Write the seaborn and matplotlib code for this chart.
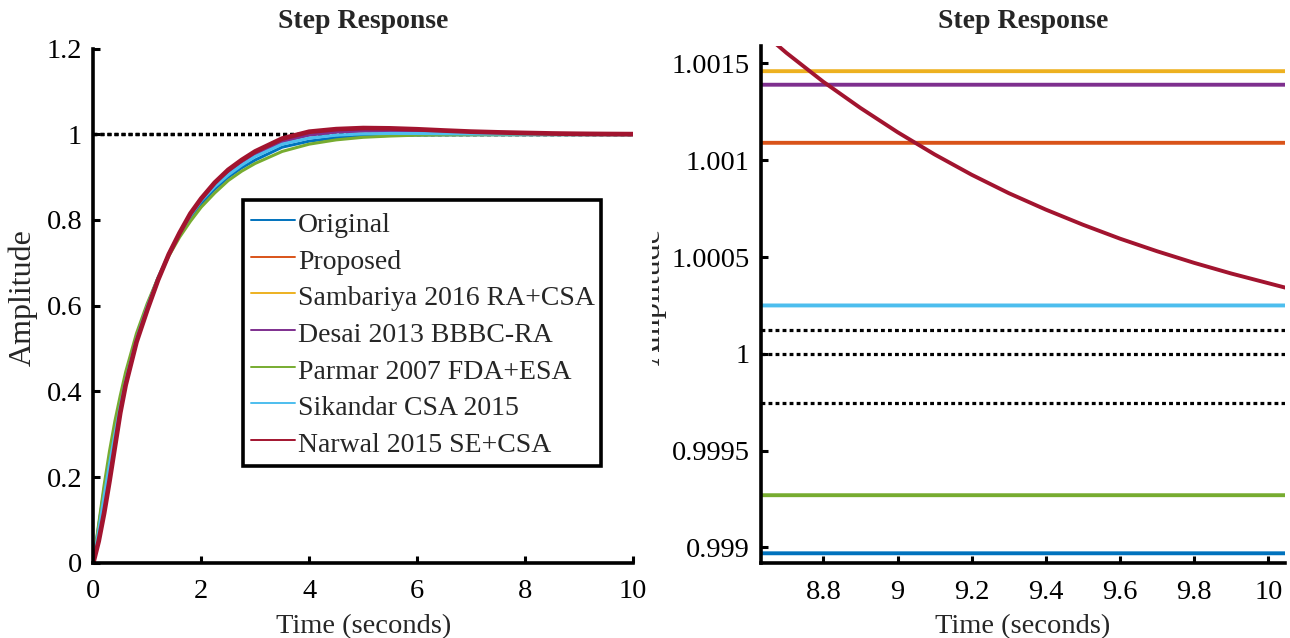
import pandas as pd
import matplotlib
matplotlib.use("Agg")
import matplotlib.pyplot as plt
from matplotlib.ticker import FormatStrFormatter
from matplotlib.transforms import Bbox, TransformedBbox
import seaborn as sns

# shared time grid (s)
time = [0, 0.1, 0.2, 0.3, 0.4, 0.5, 0.6, 0.8, 1.0, 1.2, 1.4, 1.6, 1.8, 2.0, 2.25, 2.5,
        2.75, 3.0, 3.5, 4.0, 4.5, 5.0, 5.5, 6.0, 6.5, 7.0, 7.5, 8.0, 8.5, 9.0, 9.5, 10.05]

original = [0, 0.085, 0.17, 0.245, 0.31, 0.37, 0.43, 0.525, 0.60, 0.665, 0.72, 0.765,
            0.805, 0.838, 0.872, 0.90, 0.922, 0.94, 0.97, 0.984, 0.992, 0.9955, 0.9975,
            0.9984, 0.9988, 0.9989, 0.99897, 0.99897, 0.99897, 0.99897, 0.99897, 0.99897]
proposed = [0, 0.052, 0.118, 0.193, 0.272, 0.35, 0.415, 0.515, 0.59, 0.659, 0.719, 0.769,
            0.813, 0.848, 0.884, 0.913, 0.936, 0.956, 0.984, 0.999, 1.006, 1.008, 1.0078,
            1.0065, 1.005, 1.0035, 1.0024, 1.0016, 1.00109, 1.00109, 1.00109, 1.00109]
sambariya = [0, 0.055, 0.122, 0.197, 0.275, 0.352, 0.417, 0.516, 0.592, 0.66, 0.72, 0.77,
             0.814, 0.849, 0.886, 0.915, 0.938, 0.957, 0.985, 1.0, 1.0068, 1.009, 1.0088,
             1.0075, 1.006, 1.0045, 1.0032, 1.0023, 1.00146, 1.00146, 1.00146, 1.00146]
desai = [0, 0.058, 0.126, 0.2, 0.278, 0.354, 0.418, 0.517, 0.593, 0.661, 0.72, 0.77,
         0.813, 0.847, 0.883, 0.912, 0.935, 0.954, 0.983, 0.998, 1.005, 1.0075, 1.0075,
         1.0065, 1.0052, 1.004, 1.003, 1.0021, 1.00139, 1.00139, 1.00139, 1.00139]
parmar = [0, 0.09, 0.18, 0.26, 0.33, 0.39, 0.445, 0.535, 0.605, 0.665, 0.716, 0.76,
          0.797, 0.83, 0.863, 0.892, 0.914, 0.932, 0.96, 0.977, 0.987, 0.993, 0.996,
          0.998, 0.9987, 0.999, 0.99915, 0.99925, 0.99927, 0.99927, 0.99927, 0.99927]
sikandar = [0, 0.075, 0.155, 0.23, 0.30, 0.365, 0.425, 0.522, 0.598, 0.664, 0.72, 0.768,
            0.81, 0.845, 0.878, 0.905, 0.928, 0.948, 0.977, 0.991, 0.998, 1.001, 1.002,
            1.0018, 1.0012, 1.0008, 1.0005, 1.0003, 1.00025, 1.00025, 1.00025, 1.00025]

# Narwal has its own, denser grid in the zoomed window
narwal_time = [0, 0.1, 0.2, 0.3, 0.4, 0.5, 0.6, 0.8, 1.0, 1.2, 1.4, 1.6, 1.8, 2.0, 2.25,
               2.5, 2.75, 3.0, 3.5, 4.0, 4.5, 5.0, 5.5, 6.0, 6.5, 7.0, 7.5, 8.0, 8.5,
               8.6, 8.7, 8.8, 8.9, 9.0, 9.1, 9.2, 9.3, 9.4, 9.5, 9.6, 9.7, 9.8, 9.9,
               10.0, 10.05]
narwal = [0, 0.05, 0.115, 0.19, 0.27, 0.35, 0.415, 0.515, 0.59, 0.66, 0.72, 0.77, 0.815,
          0.85, 0.887, 0.917, 0.94, 0.96, 0.99, 1.006, 1.012, 1.0145, 1.0138, 1.0117,
          1.0088, 1.0062, 1.0045, 1.0031, 1.00188,
          1.00172, 1.001555, 1.001405, 1.00127, 1.001145, 1.00103, 1.000925, 1.00083,
          1.000745, 1.000667, 1.000595, 1.00053, 1.00047, 1.000415, 1.000365, 1.00034]

# steady-state marker lines (dotted)
ss_levels = [1.000124, 1.0, 0.999747]

labels = ["Original", "Proposed", "Sambariya 2016 RA+CSA", "Desai 2013 BBBC-RA",
          "Parmar 2007 FDA+ESA", "Sikandar CSA 2015", "Narwal 2015 SE+CSA"]
colors = ["#0072BD", "#D95319", "#EDB120", "#7E2F8E", "#77AC30", "#4DBEEE", "#A2142F"]


def main():
    sns.set_style("ticks")
    plt.rcParams["font.family"] = ["Liberation Serif", "DejaVu Serif"]

    series = [(time, original), (time, proposed), (time, sambariya), (time, desai),
              (time, parmar), (time, sikandar), (narwal_time, narwal)]

    fig = plt.figure(figsize=(12.9, 6.38), dpi=100)
    ax1 = fig.add_axes([0.0723, 0.118, 0.4184, 0.8058])
    ax2 = fig.add_axes([0.5897, 0.1176, 0.4064, 0.8103])

    for ax in (ax1, ax2):
        for lvl in ss_levels:
            ax.axhline(lvl, color="black", ls=(0, (1.2, 1.0)), lw=2.3, zorder=1)

    for (t, y), name, c in zip(series, labels, colors):
        df = pd.DataFrame({"Time": t, "Amplitude": y})
        lw = 3.4 if name.startswith("Narwal") else 2.2
        sns.lineplot(data=df, x="Time", y="Amplitude", ax=ax1, color=c, lw=lw,
                     label=name, sort=False, estimator=None, zorder=2)
        sns.lineplot(data=df, x="Time", y="Amplitude", ax=ax2, color=c, lw=2.8,
                     legend=False, sort=False, estimator=None, zorder=2)

    ax1.set_xlim(0, 10)
    ax1.set_ylim(0, 1.2)
    ax1.set_xticks([0, 2, 4, 6, 8, 10])
    ax1.set_yticks([0, 0.2, 0.4, 0.6, 0.8, 1.0, 1.2])
    ax2.set_xlim(8.631, 10.045)
    ax2.set_ylim(0.99892, 1.00159)
    ax2.set_xticks([8.8, 9.0, 9.2, 9.4, 9.6, 9.8, 10.0])
    ax2.set_yticks([0.999, 0.9995, 1.0, 1.0005, 1.001, 1.0015])

    for ax, tpad in ((ax1, 15), (ax2, 13)):
        ax.xaxis.set_major_formatter(FormatStrFormatter("%g"))
        ax.yaxis.set_major_formatter(FormatStrFormatter("%g"))
        ax.spines[["top", "right"]].set_visible(False)
        for s in ("left", "bottom"):
            ax.spines[s].set_linewidth(2.6)
            ax.spines[s].set_color("black")
        ax.tick_params(axis="both", direction="in", length=5, width=2.2,
                       labelsize=20.5, colors="black")
        ax.tick_params(axis="x", pad=12)
        ax.tick_params(axis="y", pad=8)
        ax.set_title("Step Response", fontsize=20, fontweight="bold", pad=tpad)
        ax.set_xlabel("Time (seconds)", fontsize=20.5)
        ax.set_ylabel("Amplitude", fontsize=23)

    ax1.xaxis.set_label_coords(0.5, -0.099)
    ax2.xaxis.set_label_coords(0.5, -0.0986)
    ax1.yaxis.set_label_coords(-0.102, 0.515)
    ax2.yaxis.set_label_coords(-0.179, 0.515)
    # the right panel's y label is cut off in the reference
    lbl = ax2.yaxis.label
    lbl.set_clip_on(True)
    lbl.set_clip_box(TransformedBbox(Bbox([[0.5054, 0.0], [1.0, 1.0]]), fig.transFigure))

    leg = ax1.legend(loc="upper left", bbox_to_anchor=(0.2774, 0.0, 0.6633, 0.7055),
                     mode="expand", borderaxespad=0, fontsize=20, frameon=True,
                     fancybox=False, framealpha=1, edgecolor="black",
                     handlelength=1.6, handletextpad=0.1, handleheight=1.25,
                     labelspacing=0.24, borderpad=0.28)
    leg.get_frame().set_linewidth(2.6)
    for line in leg.get_lines():
        line.set_linewidth(1.4)

    fig.savefig("out.png", dpi=100)


if __name__ == "__main__":
    main()
